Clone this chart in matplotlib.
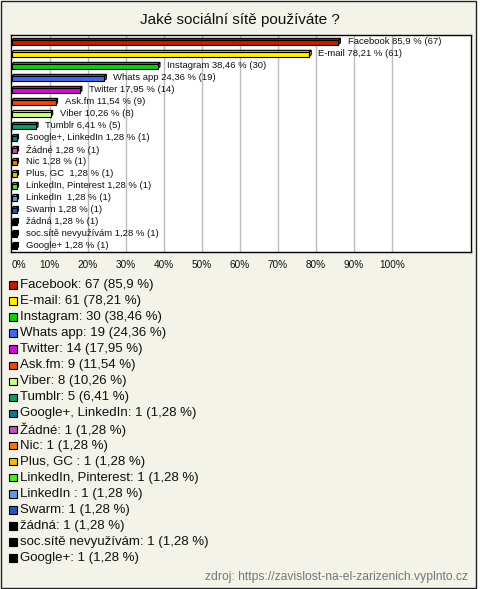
import matplotlib
matplotlib.use("Agg")
import matplotlib.pyplot as plt
from matplotlib.patches import Rectangle, Polygon

plt.rcParams['font.family'] = ['Liberation Sans', 'DejaVu Sans']

title = "Jaké sociální sítě používáte ?"
categories = ["Facebook", "E-mail", "Instagram", "Whats app", "Twitter", "Ask.fm",
              "Viber", "Tumblr", "Google+, LinkedIn", "Žádné", "Nic", "Plus, GC ",
              "LinkedIn, Pinterest", "LinkedIn ", "Swarm", "žádná",
              "soc.sítě nevyužívám", "Google+"]
counts = [67, 61, 30, 19, 14, 9, 8, 5, 1, 1, 1, 1, 1, 1, 1, 1, 1, 1]
percents = [85.9, 78.21, 38.46, 24.36, 17.95, 11.54, 10.26, 6.41, 1.28, 1.28, 1.28,
            1.28, 1.28, 1.28, 1.28, 1.28, 1.28, 1.28]
colors = ["#c01a08", "#ffee00", "#11cc11", "#4466ee", "#cc11cc", "#ee4411",
          "#ccff88", "#119966", "#117788", "#bb55bb", "#ee7711", "#eebb11",
          "#44ee22", "#6699dd", "#2255bb", "#000000", "#000000", "#000000"]
xticks = [0, 10, 20, 30, 40, 50, 60, 70, 80, 90, 100]
source = "zdroj: https://zavislost-na-el-zarizenich.vyplnto.cz"

W, H = 480, 589
fig = plt.figure(figsize=(W / 100, H / 100), dpi=100)
fig.patch.set_facecolor("white")


def fx(px):
    return px / W


def fy(py):
    return 1 - py / H


# background panel with border
fig.add_artist(Rectangle((fx(0.5), fy(587.5)), fx(475), 587 / H,
                         facecolor="#f3f3ea", edgecolor="#222222", lw=1,
                         transform=fig.transFigure, zorder=0))

fig.text(fx(240), fy(24), title, ha="center", va="baseline", fontsize=11, color="#111111")

ax = fig.add_axes([fx(10.5), fy(252), fx(470.5 - 10.5), (252 - 35.3) / H])
ax.set_facecolor("white")
n = len(categories)
ax.set_xlim(-0.3, 120.6)
ax.set_ylim(n - 0.47, -0.52)
for s in ax.spines.values():
    s.set_color("black")
    s.set_linewidth(1)

ax.set_xticks(xticks)
ax.set_xticklabels([f"{t}%" for t in xticks], fontsize=7.2, color="#111111")
ax.tick_params(axis="x", length=0, pad=6)
ax.get_xticklabels()[0].set_horizontalalignment("left")
ax.set_yticks([])
for t in xticks[1:]:
    ax.axvline(t, color="#bcbcbc", lw=1, zorder=1)

fig.canvas.draw()
inv = ax.transData.inverted()
p0 = inv.transform((0, 0))
p1 = inv.transform((2, 2))
dx = p1[0] - p0[0]
dy = p1[1] - p0[1]  # negative in inverted y => up

h = 0.36
ys = list(range(n))
for i, (v, c) in enumerate(zip(percents, colors)):
    yc = ys[i] + 0.08
    top = yc - h / 2
    bot = yc + h / 2
    ax.add_patch(Polygon([(0, top), (v, top), (v + dx, top + dy), (dx, top + dy)],
                         closed=True, facecolor=c, edgecolor="black", lw=0.8, zorder=3))
    ax.add_patch(Polygon([(v, top), (v + dx, top + dy), (v + dx, bot + dy), (v, bot)],
                         closed=True, facecolor=c, edgecolor="black", lw=0.8, zorder=3))
ax.barh([y + 0.08 for y in ys], percents, height=h, color=colors, edgecolor="black",
        lw=0.8, zorder=4)

for i, (cat, v, cnt) in enumerate(zip(categories, percents, counts)):
    ps = f"{v:g}".replace(".", ",")
    ax.annotate(f"{cat} {ps} % ({cnt})", xy=(v, ys[i]), xytext=(6.6, 0),
                textcoords="offset points", va="center", ha="left",
                fontsize=6.8, color="#111111", zorder=5)

# legend
for i, (cat, v, cnt, c) in enumerate(zip(categories, percents, counts, colors)):
    yc = 285 + 16.06 * i
    fig.add_artist(Rectangle((fx(9), fy(yc + 3.75)), fx(7.5), 7.5 / H,
                             facecolor=c, edgecolor="black", lw=0.8,
                             transform=fig.transFigure, zorder=3))
    ps = f"{v:g}".replace(".", ",")
    fig.text(fx(20.5), fy(yc), f"{cat}: {cnt} ({ps} %)", ha="left", va="center",
             fontsize=9.5, color="#111111")

fig.text(fx(468), fy(577), source, ha="right", va="center", fontsize=8.7, color="#777777")

fig.savefig("out.png", dpi=100, facecolor=fig.get_facecolor())
